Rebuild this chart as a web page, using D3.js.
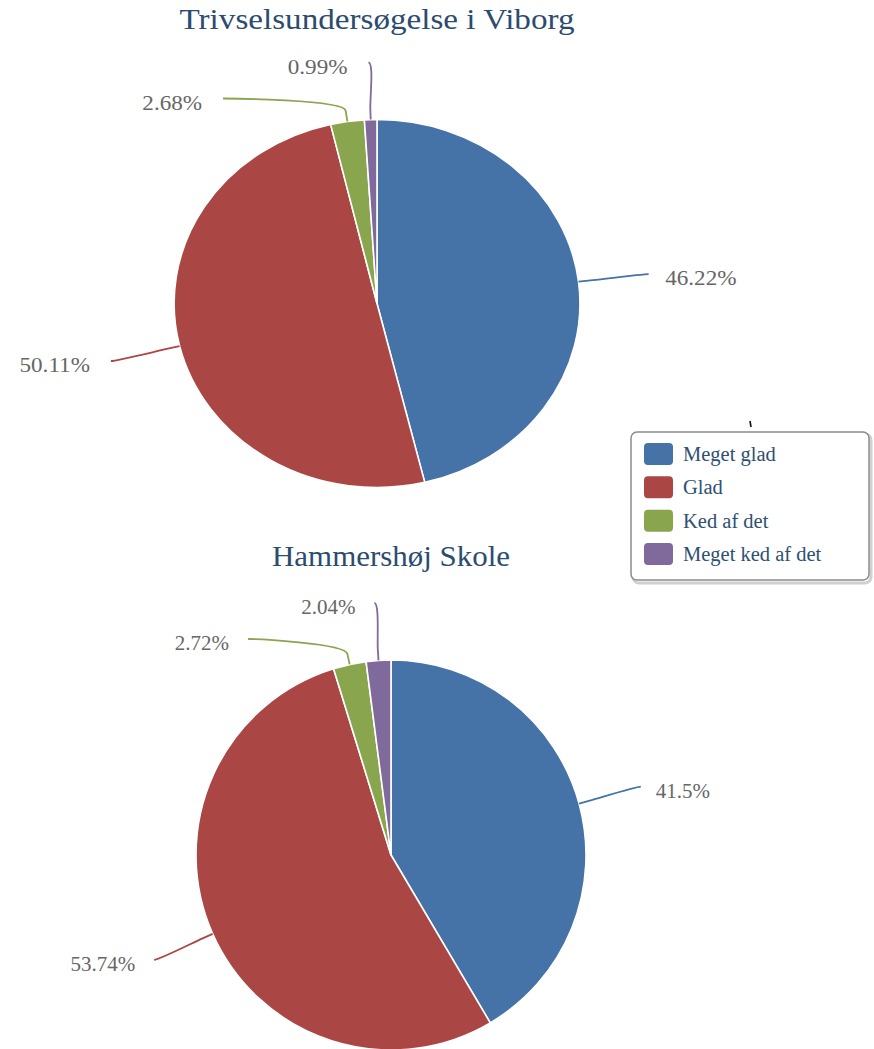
<!DOCTYPE html>
<html>
<head>
<meta charset="utf-8">
<script src="https://cdn.jsdelivr.net/npm/d3@7"></script>
<style>
  html, body { margin: 0; padding: 0; background: #ffffff; }
  svg { display: block; }
</style>
</head>
<body>
<script>
// ---- data ----
const categories = ["Meget glad", "Glad", "Ked af det", "Meget ked af det"];
const viborgValues = [46.22, 50.11, 2.68, 0.99];
const hammershojValues = [41.5, 53.74, 2.72, 2.04];
const chartTitles = ["Trivselsundersøgelse i Viborg", "Hammershøj Skole"];
const seriesColors = ["#4572A7", "#AA4643", "#89A54E", "#80699B"];

// ---- layout ----
const W = 874, H = 1049;
const svg = d3.select("body").append("svg").attr("width", W).attr("height", H);
const serif = "'Liberation Serif', 'Times New Roman', serif";

const charts = [
  { values: viborgValues, title: chartTitles[0], cx: 377, cy: 303.5, r: 184, sx: 1.103,
    titleY: 29, titleLen: 395 },
  { values: hammershojValues, title: chartTitles[1], cx: 391, cy: 855, r: 195, sx: 1.0,
    titleY: 566, titleLen: 238 }
];

const pie = d3.pie().sort(null).value(d => d).startAngle(0).endAngle(2 * Math.PI);
const fmt = v => v + "%";

charts.forEach(c => {
  // title
  svg.append("text")
    .attr("x", c.cx).attr("y", c.titleY)
    .attr("text-anchor", "middle")
    .attr("font-family", serif).attr("font-size", 29)
    .attr("fill", "#2b4c6f")
    .attr("textLength", c.titleLen).attr("lengthAdjust", "spacingAndGlyphs")
    .text(c.title);

  const g = svg.append("g").attr("transform", `translate(${c.cx},${c.cy}) scale(${c.sx},1)`);
  const arcs = pie(c.values);
  const arc = d3.arc().innerRadius(0).outerRadius(c.r);

  g.selectAll("path.slice").data(arcs).enter().append("path")
    .attr("class", "slice")
    .attr("d", arc)
    .attr("fill", (d, i) => seriesColors[i])
    .attr("stroke", "#ffffff").attr("stroke-width", 1.6)
    .attr("vector-effect", "non-scaling-stroke")
    .attr("stroke-linejoin", "round");

  // label layout (Highcharts-like)
  const D = 64, R = c.r + D, spacing = 36, topY = -R + 7;
  const items = arcs.map((a, i) => {
    const mid = (a.startAngle + a.endAngle) / 2;
    return { i, a, mid, natY: -Math.cos(mid) * R, left: Math.sin(mid) < 0 };
  });
  [true, false].forEach(side => {
    const half = items.filter(d => d.left === side).sort((p, q) => p.natY - q.natY);
    half.forEach((d, k) => {
      if (k === 0) d.y = Math.max(d.natY, topY);
      else d.y = Math.max(d.natY, half[k - 1].y + spacing);
      const yx = (k === 0 || k === half.length - 1) ? d.natY : d.y;
      const dx = Math.sqrt(Math.max(0, R * R - yx * yx));
      d.x = side ? -dx : dx;
    });
  });

  items.forEach(d => {
    const sin = Math.sin(d.mid), cos = -Math.cos(d.mid);
    const p4 = [c.r * sin, c.r * cos];
    const p2 = [(c.r + 11) * sin, (c.r + 11) * cos];
    const c2 = [(c.r + 22) * sin, (c.r + 22) * cos];
    const path = d3.path();
    path.moveTo(d.x, d.y);
    path.bezierCurveTo(d.x + (d.left ? 5 : -5), d.y, c2[0], c2[1], p2[0], p2[1]);
    path.lineTo(p4[0], p4[1]);
    g.append("path")
      .attr("d", path.toString())
      .attr("fill", "none")
      .attr("stroke", seriesColors[d.i])
      .attr("stroke-width", 1.8)
      .attr("vector-effect", "non-scaling-stroke");
    g.append("text")
      .attr("x", d.left ? d.x - 19 : d.x + 15)
      .attr("y", d.y + 11)
      .attr("text-anchor", d.left ? "end" : "start")
      .attr("font-family", serif).attr("font-size", 21)
      .attr("fill", "#666666")
      .text(fmt(c.values[d.i]));
  });
});

// ---- legend ----
const lg = svg.append("g");
lg.append("rect")
  .attr("x", 633).attr("y", 434).attr("width", 238).attr("height", 149)
  .attr("rx", 6).attr("fill", "none").attr("stroke", "#d0d0d0").attr("stroke-width", 3);
lg.append("rect")
  .attr("x", 631).attr("y", 432).attr("width", 238).attr("height", 148)
  .attr("rx", 6).attr("fill", "#ffffff").attr("stroke", "#8c8c8c").attr("stroke-width", 1.5);

const rowY = d3.scalePoint().domain(categories).range([454, 554]);
categories.forEach((cat, i) => {
  lg.append("rect")
    .attr("x", 644).attr("y", rowY(cat) - 11).attr("width", 29).attr("height", 22)
    .attr("rx", 4).attr("fill", seriesColors[i]);
  lg.append("text")
    .attr("x", 683).attr("y", rowY(cat) + 7)
    .attr("font-family", serif).attr("font-size", 20.5)
    .attr("fill", "#2e4f73")
    .text(cat);
});

// small stray tick above legend
svg.append("path").attr("d", "M750,421 L751,427").attr("stroke", "#111").attr("stroke-width", 1.6);
</script>
</body>
</html>
